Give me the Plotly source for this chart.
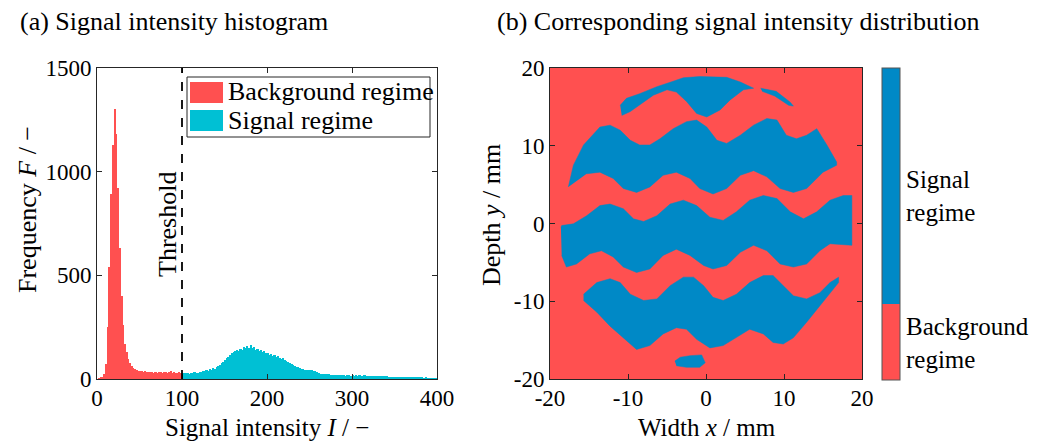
import numpy as np
import plotly.graph_objects as go

W, H = 1037, 441
FONT = "Liberation Serif"
RED = "#FF5050"
CYAN = "#00C0D4"
BLUE = "#0089C6"
AXIS_COLOR = "#262626"

# ---------------- (a) histogram data ----------------
BIN_WIDTH = 2
THRESHOLD = 100
HIST_MAX_I = 400

# counts per 2-unit bin, I = 0 ... 100 (background regime)
background_counts = [
    0, 2, 5, 10, 22, 70, 250, 540, 890, 1130,
    1300, 1180, 920, 630, 400, 260, 170, 128, 98, 76,
    62, 54, 48, 44, 41, 38, 40, 35, 37, 33,
    36, 32, 34, 31, 35, 30, 33, 34, 30, 32,
    36, 31, 33, 38, 30, 34, 31, 29, 33, 28,
]
# counts per 2-unit bin, I = 100 ... 400 (signal regime)
signal_counts = [
    30, 27, 31, 29, 26, 30, 28, 32, 29, 31,
    36, 34, 40, 38, 43, 41, 47, 45, 52, 50,
    58, 62, 67, 75, 84, 92, 100, 108, 116, 124,
    130, 134, 138, 136, 146, 142, 152, 148, 158, 150,
    163, 148, 155, 140, 146, 135, 138, 130, 133, 127,
    124, 118, 121, 113, 116, 108, 110, 103, 98, 100,
    90, 85, 80, 76, 72, 68, 64, 60, 57, 54,
    50, 47, 45, 44, 45, 42, 43, 41, 38, 34,
    28, 26, 24, 25, 22, 23, 24, 21, 20, 19,
    18, 19, 17, 18, 17, 19, 16, 18, 17, 16,
    17, 16, 18, 15, 17, 16, 15, 17, 16, 15,
    16, 14, 15, 16, 14, 15, 14, 15, 13, 14,
    13, 12, 12, 11, 12, 10, 11, 10, 11, 9,
    9, 8, 7, 7, 6, 7, 6, 6, 5, 6,
    5, 5, 4, 5, 4, 4, 3, 4, 3, 3,
]

hist_x_ticks = [0, 100, 200, 300, 400]
hist_y_ticks = [0, 500, 1000, 1500]

# ---------------- (b) signal regime outlines (mm) ----------------
band1_x = [-11.0, -10.2, -8.5, -6.3, -4.2, -2.9, -0.8, 2.65, 4.4, 6.1,
           4.8, 3.1, 1.8, 0.1, -1.2, -2.5, -3.8, -5.0, -6.75, -8.5, -9.7, -10.8]
band1_y = [15.2, 16.1, 16.7, 17.6, 18.3, 18.75, 18.9, 18.8, 18.2, 17.4,
           17.2, 15.9, 14.6, 13.7, 14.15, 15.7, 16.9, 17.2, 16.5, 15.2, 14.4, 13.9]

band2_x = [-17.65, -17.0, -15.7, -14.4, -13.6, -12.3, -11.0, -9.7, -8.5, -7.2,
           -5.9, -4.2, -2.5, -1.2, 0.1, 1.4, 2.65, 4.4, 6.1, 7.8,
           9.1, 10.3, 11.6, 12.9, 14.2, 15.5, 16.75,
           16.75, 15.0, 12.9, 11.2, 9.5, 7.8, 6.1, 4.4, 2.65, 0.9,
           -0.8, -2.05, -3.8, -5.5, -7.2, -8.9, -10.6, -11.9, -13.6, -15.3]
band2_y = [4.7, 7.5, 10.1, 11.6, 12.4, 12.65, 12.0, 10.7, 10.1, 10.1,
           10.9, 12.2, 13.1, 13.3, 12.4, 10.7, 10.3, 11.35, 12.65, 13.5,
           13.3, 11.35, 10.9, 11.35, 12.2, 10.1, 7.9,
           7.5, 6.6, 4.5, 4.0, 4.5, 6.0, 6.8, 6.2, 4.5, 3.8,
           4.5, 5.8, 6.6, 6.2, 4.7, 4.0, 4.5, 5.8, 6.6, 6.4]

band3_x = [-18.6, -18.5, -17.0, -15.3, -13.6, -12.3, -10.6, -9.3, -8.0, -6.3,
           -4.6, -2.9, -1.2, 0.5, 2.2, 3.9, 5.6, 7.35, 9.1, 10.8,
           12.5, 14.2, 15.9, 17.6, 18.7,
           18.7, 15.9, 14.6, 12.9, 11.2, 9.5, 7.8, 6.1, 4.4, 2.65,
           0.9, -0.3, -2.05, -3.8, -5.5, -7.2, -8.9, -10.6, -11.9, -13.4,
           -14.9, -16.6, -17.9, -18.5]
band3_y = [-0.5, -0.26, -0.04, 1.0, 2.3, 2.5, 1.9, 0.6, 0.26, 1.0,
           2.5, 3.0, 2.3, 0.8, 0.4, 1.5, 3.0, 3.6, 3.2, 1.5,
           0.6, 1.5, 3.0, 3.6, 3.6,
           -2.8, -2.6, -3.5, -5.2, -5.6, -5.2, -3.5, -2.8, -3.7, -5.4,
           -5.85, -5.4, -4.1, -3.3, -4.1, -5.85, -6.3, -5.6, -4.3, -3.5,
           -3.9, -5.2, -5.6, -4.1]

band4_x = [-15.7, -14.0, -12.3, -11.0, -9.7, -8.0, -6.3, -4.6, -2.9, -1.6,
           -0.3, 0.9, 2.2, 3.9, 5.6, 7.35, 8.6, 9.9, 11.2, 12.9,
           14.6, 15.9, 17.0,
           17.0, 15.0, 12.9, 11.2, 9.9, 8.6, 7.35, 5.6, 3.9, 2.2,
           0.5, -1.2, -2.5, -3.8, -5.5, -7.2, -8.9, -10.6, -12.3, -14.0, -15.7]
band4_y = [-9.1, -7.6, -7.1, -7.6, -9.1, -9.9, -9.7, -8.0, -6.9, -6.9,
           -8.0, -9.5, -9.9, -9.1, -7.6, -6.7, -6.7, -8.0, -9.3, -9.7,
           -8.9, -7.6, -6.9,
           -7.6, -10.15, -12.7, -14.7, -15.5, -15.3, -14.2, -13.6, -14.7, -15.7,
           -16.0, -14.9, -13.6, -13.4, -14.2, -15.7, -16.2, -14.7, -13.2, -11.4, -9.9]

# thin speckled fringe near the upper right rim
speck_x = [7.0, 9.0, 10.8, 11.2, 10.6, 8.8, 7.2]
speck_y = [17.4, 17.0, 15.6, 15.1, 15.2, 16.4, 17.0]

blob_x = [-4.0, -3.3, -2.05, -0.56, -0.1, -0.8, -2.5, -3.8]
blob_y = [-17.7, -17.2, -17.0, -16.9, -17.9, -18.5, -18.5, -18.3]

signal_outlines = [
    (band1_x, band1_y), (band2_x, band2_y), (band3_x, band3_y),
    (band4_x, band4_y), (speck_x, speck_y), (blob_x, blob_y),
]

MAP_HALF = 20
map_ticks = [-20, -10, 0, 10, 20]
map_tick_text = ["-20", "-10", "0", "10", "20"]
# colour bar split (fraction of bar occupied by background colour)
BG_FRACTION = 0.244
colorbar_labels = ["Background<br>regime", "Signal<br>regime"]
colorbar_label_pos = [0.12, 0.59]


def px(x):
    return x / W


def py(y):
    return 1 - y / H


fig = go.Figure()

# ---- histogram bars ----
edges_bg = np.arange(0, THRESHOLD, BIN_WIDTH)
edges_sig = np.arange(THRESHOLD, HIST_MAX_I, BIN_WIDTH)
fig.add_trace(go.Bar(
    x=edges_bg + BIN_WIDTH / 2, y=background_counts, width=BIN_WIDTH,
    marker=dict(color=RED, line=dict(width=0)), xaxis="x", yaxis="y",
    showlegend=False, hoverinfo="skip"))
fig.add_trace(go.Bar(
    x=edges_sig + BIN_WIDTH / 2, y=signal_counts, width=BIN_WIDTH,
    marker=dict(color=CYAN, line=dict(width=0)), xaxis="x", yaxis="y",
    showlegend=False, hoverinfo="skip"))

# ---- map: background field with colour bar ----
fig.add_trace(go.Heatmap(
    z=[[0]], x=[-MAP_HALF, MAP_HALF], y=[-MAP_HALF, MAP_HALF],
    zmin=0, zmax=1,
    colorscale=[[0, RED], [BG_FRACTION, RED], [BG_FRACTION, BLUE], [1, BLUE]],
    xaxis="x2", yaxis="y2", hoverinfo="skip",
    colorbar=dict(
        x=px(882), xanchor="left", y=py(380), yanchor="bottom",
        lenmode="pixels", len=312, thickness=18, thicknessmode="pixels",
        xpad=0, ypad=0, outlinewidth=1, outlinecolor="#555555",
        tickvals=colorbar_label_pos, ticktext=colorbar_labels,
        ticks="", ticklen=0,
        tickfont=dict(family=FONT, size=25, color="black"),
    ),
))
for ox, oy in signal_outlines:
    fig.add_trace(go.Scatter(
        x=ox, y=oy, mode="lines", fill="toself", fillcolor=BLUE,
        line=dict(color=BLUE, width=0.5), xaxis="x2", yaxis="y2",
        showlegend=False, hoverinfo="skip"))

axis_common = dict(
    showline=True, linecolor=AXIS_COLOR, linewidth=1, mirror="ticks",
    ticks="inside", ticklen=5, tickcolor=AXIS_COLOR, showgrid=False,
    zeroline=False, automargin=False,
    tickfont=dict(family=FONT, size=23, color="black"),
)
x_axis_extra = dict(ticklabelstandoff=-2)

fig.update_layout(
    width=W, height=H, margin=dict(l=0, r=0, t=0, b=0, autoexpand=False),
    paper_bgcolor="white", plot_bgcolor="white", bargap=0,
    showlegend=False,
    xaxis=dict(domain=[px(97), px(437)], range=[0, HIST_MAX_I],
               tickvals=hist_x_ticks, anchor="y", **axis_common, **x_axis_extra),
    yaxis=dict(domain=[py(379), py(68)], range=[0, 1500],
               tickvals=hist_y_ticks, anchor="x", **axis_common),
    xaxis2=dict(domain=[px(550), px(862)], range=[-MAP_HALF, MAP_HALF],
                tickvals=map_ticks, ticktext=map_tick_text, anchor="y2",
                layer="above traces", **axis_common, **x_axis_extra),
    yaxis2=dict(domain=[py(379), py(68)], range=[-MAP_HALF, MAP_HALF],
                tickvals=map_ticks, ticktext=map_tick_text, anchor="x2",
                layer="above traces", **axis_common),
)

# threshold line
fig.add_shape(type="line", xref="x", yref="y", x0=THRESHOLD, x1=THRESHOLD,
              y0=0, y1=1500, line=dict(color="black", width=1.8, dash="dash"))

# legend box for the histogram
fig.add_shape(type="rect", xref="paper", yref="paper",
              x0=px(187), x1=px(430), y0=py(137), y1=py(77),
              line=dict(color=AXIS_COLOR, width=1), fillcolor="white")
fig.add_shape(type="rect", xref="paper", yref="paper",
              x0=px(190), x1=px(223), y0=py(103), y1=py(82),
              line=dict(width=0), fillcolor=RED)
fig.add_shape(type="rect", xref="paper", yref="paper",
              x0=px(190), x1=px(223), y0=py(131), y1=py(110),
              line=dict(width=0), fillcolor=CYAN)

TXT = dict(family=FONT, size=26, color="black")
TXT_X = dict(family=FONT, size=25, color="black")
annotations = [
    dict(text="(a) Signal intensity histogram", x=px(18), y=py(22), xanchor="left"),
    dict(text="(b) Corresponding signal intensity distribution", x=px(495), y=py(22),
         xanchor="left"),
    dict(text="Signal intensity <i>I</i> / −", x=px(267), y=py(427), font=TXT_X),
    dict(text="Width <i>x</i> / mm", x=px(707), y=py(427), font=TXT_X),
    dict(text="Frequency <i>F</i> / −", x=px(27), y=py(210), textangle=-90),
    dict(text="Depth <i>y</i> / mm", x=px(492), y=py(215), textangle=-90),
    dict(text="Threshold", x=px(167), y=py(225), textangle=-90),
    dict(text="Background regime", x=px(226), y=py(92), xanchor="left"),
    dict(text="Signal regime", x=px(226), y=py(120), xanchor="left"),
]
for a in annotations:
    a.setdefault("xanchor", "center")
    a.setdefault("font", TXT)
    fig.add_annotation(xref="paper", yref="paper", yanchor="middle",
                       showarrow=False, **a)

fig.write_html("out.html")
